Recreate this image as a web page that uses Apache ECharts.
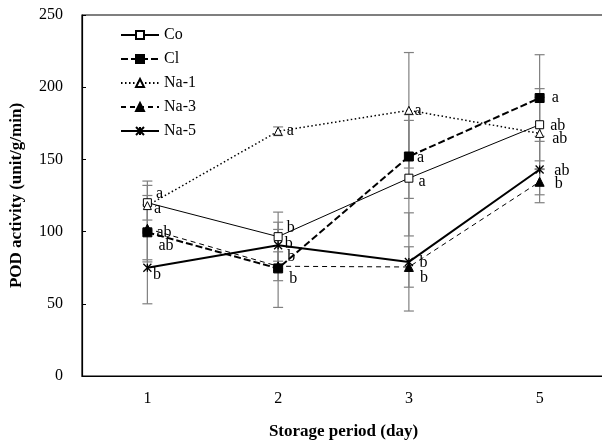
<!DOCTYPE html>
<html>
<head>
<meta charset="utf-8">
<script src="https://cdn.jsdelivr.net/npm/echarts@6/dist/echarts.min.js"></script>
<style>html,body{margin:0;padding:0;background:#fff;}#c{width:602px;height:442px;}</style>
</head>
<body>
<div id="c"></div>
<script>
// ---- data ----
var categories = ['1', '2', '3', '5'];
var yTicks = [0, 50, 100, 150, 200, 250];

var co  = [120, 96.5, 137, 174];
var cl  = [99.5, 74.5, 152, 192.5];
var na1 = [118, 169.5, 184, 168];
var na3 = [102, 76, 75.5, 134.5];
var na5 = [75, 90.5, 79, 143];

var coErr  = [12, 17, 40, 25];
var clErr  = [19, 27, 29, 30];
var na1Err = [17, 3, 40, 25];
var na3Err = [23, 10, 14, 9];
var na5Err = [25, 16, 34, 23];

var coLabels  = ['a', 'b', 'a', 'ab'];
var clLabels  = ['ab', 'b', 'a', 'a'];
var na1Labels = ['a', 'a', 'a', 'ab'];
var na3Labels = ['ab', 'b', 'b', 'b'];
var na5Labels = ['b', 'b', 'b', 'ab'];

// label placement (pixels from the point), kept apart from the data
var coOff  = [[6, 6], [8, -9], [9, 4], [10, 1]];
var clOff  = [[10, 13], [10, 10], [7, 1], [11, 0]];
var na1Off = [[8, -12], [8, 0], [5, 0], [12, 5]];
var na3Off = [[8, 4], [8, -9], [10, 11], [14, 2]];
var na5Off = [[5, 7], [6, -2], [10, 1], [14, 1]];

var FONT = 'Liberation Serif';

function pts(vals, labels, offs) {
  return vals.map(function (v, i) {
    return {
      value: v,
      label: {
        show: true, formatter: labels[i], position: 'right', distance: 0,
        offset: [offs[i][0] - 4, offs[i][1]],
        color: '#000', fontFamily: FONT, fontSize: 16
      }
    };
  });
}

var errData = [];
[[co, coErr], [cl, clErr], [na1, na1Err], [na3, na3Err], [na5, na5Err]].forEach(function (p) {
  p[0].forEach(function (v, i) {
    errData.push([i, v - p[1][i], v + p[1][i]]);
  });
});

var chart = echarts.init(document.getElementById('c'), null, { renderer: 'canvas' });
chart.setOption({
  animation: false,
  backgroundColor: '#fff',
  grid: { left: 82, top: 15, width: 523, height: 361, outerBoundsMode: 'none', containLabel: false,
          show: true, borderColor: '#000', borderWidth: 1.2, backgroundColor: 'transparent' },
  legend: {
    orient: 'vertical', left: 115, top: 22, itemWidth: 38, itemHeight: 10, itemGap: 8,
    textStyle: { fontFamily: FONT, fontSize: 16, color: '#000' },
    data: ['Co', 'Cl', 'Na-1', 'Na-3', 'Na-5']
  },
  xAxis: {
    type: 'category', data: categories, boundaryGap: true,
    name: 'Storage period (day)', nameLocation: 'middle', nameGap: 47,
    nameTextStyle: { fontFamily: FONT, fontSize: 17, fontWeight: 'bold', color: '#000' },
    axisLine: { lineStyle: { color: '#000', width: 1.2 } },
    axisTick: { alignWithLabel: true, inside: true, length: 4, lineStyle: { color: '#000' } },
    axisLabel: { fontFamily: FONT, fontSize: 16, color: '#000', margin: 15 },
    splitLine: { show: false }
  },
  yAxis: {
    type: 'value', min: yTicks[0], max: yTicks[yTicks.length - 1], interval: 50,
    name: 'POD activity (unit/g/min)', nameLocation: 'middle', nameGap: 57, nameRotate: 90,
    nameTextStyle: { fontFamily: FONT, fontSize: 17, fontWeight: 'bold', color: '#000' },
    axisLine: { show: true, lineStyle: { color: '#000', width: 1.2 } },
    axisTick: { show: true, inside: true, length: 4, lineStyle: { color: '#000' } },
    axisLabel: { fontFamily: FONT, fontSize: 16, color: '#000', margin: 19 },
    splitLine: { show: false }
  },
  series: [
    {
      type: 'custom', name: 'err', z: 1, silent: true,
      data: errData,
      renderItem: function (params, api) {
        var lo = api.coord([api.value(0), api.value(1)]);
        var hi = api.coord([api.value(0), api.value(2)]);
        var w = 5;
        var st = { stroke: '#808080', lineWidth: 1.2 };
        return {
          type: 'group', children: [
            { type: 'line', shape: { x1: lo[0], y1: lo[1], x2: hi[0], y2: hi[1] }, style: st },
            { type: 'line', shape: { x1: lo[0] - w, y1: lo[1], x2: lo[0] + w, y2: lo[1] }, style: st },
            { type: 'line', shape: { x1: hi[0] - w, y1: hi[1], x2: hi[0] + w, y2: hi[1] }, style: st }
          ]
        };
      }
    },
    {
      name: 'Co', type: 'line', z: 3, data: pts(co, coLabels, coOff),
      symbol: 'rect', symbolSize: 8, showAllSymbol: true,
      lineStyle: { color: '#000', width: 1, type: 'solid' },
      itemStyle: { color: '#fff', borderColor: '#000', borderWidth: 1 }
    },
    {
      name: 'Cl', type: 'line', z: 3, data: pts(cl, clLabels, clOff),
      symbol: 'rect', symbolSize: 9,
      lineStyle: { color: '#000', width: 2, type: [7, 3] },
      itemStyle: { color: '#000', borderColor: '#000', borderWidth: 1 }
    },
    {
      name: 'Na-1', type: 'line', z: 3, data: pts(na1, na1Labels, na1Off),
      symbol: 'triangle', symbolSize: 8,
      lineStyle: { color: '#000', width: 1.5, type: [1.5, 2.5] },
      itemStyle: { color: '#fff', borderColor: '#000', borderWidth: 1 }
    },
    {
      name: 'Na-3', type: 'line', z: 3, data: pts(na3, na3Labels, na3Off),
      symbol: 'triangle', symbolSize: 9,
      lineStyle: { color: '#000', width: 1, type: [5, 4] },
      itemStyle: { color: '#000', borderColor: '#000', borderWidth: 1 }
    },
    {
      name: 'Na-5', type: 'line', z: 3, data: pts(na5, na5Labels, na5Off),
      symbol: 'path://M0,0L10,10M10,0L0,10M5,0L5,10', symbolSize: 8,
      lineStyle: { color: '#000', width: 2, type: 'solid' },
      itemStyle: { color: '#000', borderColor: '#000', borderWidth: 1.3 }
    }
  ]
});
</script>
</body>
</html>
